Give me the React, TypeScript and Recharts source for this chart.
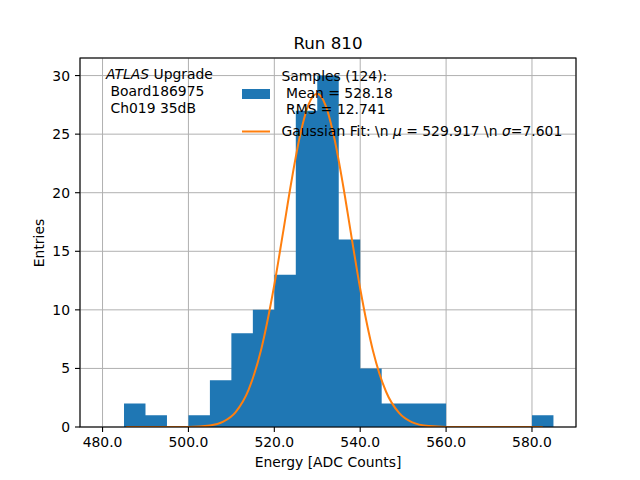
import React from 'react';
import { ComposedChart, Area, Line, XAxis, YAxis, CartesianGrid } from 'recharts';

// histogram bins (lower edges) and entries per bin
const binStarts = [485, 490, 495, 500, 505, 510, 515, 520, 525, 530, 535, 540, 545, 550, 555, 560, 565, 570, 575, 580];
const counts = [2, 1, 0, 1, 4, 8, 10, 13, 27, 30, 16, 5, 2, 2, 2, 0, 0, 0, 0, 1];
const binWidth = 5;

// gaussian fit curve
const fitX = [485.5, 495, 500, 505, 508, 511, 514, 517, 520, 522, 524, 526, 528, 530, 532, 534, 536, 538, 540, 543, 546, 549, 552, 556, 560, 570, 582.5];
const fitY = [0, 0, 0.01, 0.13, 0.44, 1.28, 3.17, 6.71, 12.14, 16.53, 21.0, 24.9, 27.56, 28.45, 27.4, 24.6, 20.66, 16.17, 11.8, 6.47, 3.03, 1.22, 0.42, 0.08, 0.01, 0, 0];

const xTicks = [480, 500, 520, 540, 560, 580];
const yTicks = [0, 5, 10, 15, 20, 25, 30];

const FONT = 'DejaVu Sans';
const BLUE = '#1f77b4';
const ORANGE = '#ff7f0e';

export default function App() {
  const histData = [
    ...binStarts.map((x, i) => ({ x, count: counts[i] })),
    { x: binStarts[binStarts.length - 1] + binWidth, count: counts[counts.length - 1] },
  ];
  const fitData = fitX.map((x, i) => ({ x, fit: fitY[i] }));
  const tickStyle = { fill: '#000', fontSize: 13.9, fontFamily: FONT };

  return (
    <div style={{ position: 'absolute', left: 0, top: 0, width: 640, height: 480, background: '#fff' }}>
      <ComposedChart width={640} height={480} margin={{ top: 58, right: 64, bottom: 0, left: 0 }}>
        <CartesianGrid stroke="#b0b0b0" strokeWidth={1} />
        <XAxis
          type="number"
          dataKey="x"
          domain={[474.75, 590.25]}
          allowDataOverflow
          ticks={xTicks}
          tickFormatter={(v: number) => v.toFixed(1)}
          height={53}
          axisLine={false}
          tickLine={{ stroke: '#000', strokeWidth: 1.1 }}
          tickSize={5}
          tickMargin={5}
          tick={tickStyle}
        />
        <YAxis
          type="number"
          domain={[0, 31.5]}
          allowDataOverflow
          ticks={yTicks}
          width={80}
          axisLine={false}
          tickLine={{ stroke: '#000', strokeWidth: 1.1 }}
          tickSize={5}
          tickMargin={5}
          tick={tickStyle}
        />
        <Area
          data={histData}
          dataKey="count"
          type="stepAfter"
          stroke="none"
          fill={BLUE}
          fillOpacity={1}
          isAnimationActive={false}
        />
        <Line
          data={fitData}
          dataKey="fit"
          type="monotone"
          stroke={ORANGE}
          strokeWidth={2}
          dot={false}
          isAnimationActive={false}
        />
      </ComposedChart>
      <svg
        width={640}
        height={480}
        style={{ position: 'absolute', left: 0, top: 0, pointerEvents: 'none' }}
        fontFamily={FONT}
      >
        <rect x={80} y={58} width={496} height={369} fill="none" stroke="#000" strokeWidth={1.1} />
        <text x={328} y={49} fontSize={16.7} textAnchor="middle">Run 810</text>
        <text x={328} y={467} fontSize={13.9} textAnchor="middle">Energy [ADC Counts]</text>
        <text x={39} y={243} fontSize={13.9} textAnchor="middle" dominantBaseline="central" transform="rotate(-90 39 243)">Entries</text>

        <text x={106} y={78.5} fontSize={13.9}>
          <tspan fontStyle="italic">ATLAS</tspan> Upgrade
        </text>
        <text x={110.5} y={96} fontSize={13.9}>Board186975</text>
        <text x={110.5} y={113} fontSize={13.9}>Ch019 35dB</text>

        <rect x={242} y={89} width={28} height={10} fill={BLUE} />
        <line x1={242} x2={270} y1={131.5} y2={131.5} stroke={ORANGE} strokeWidth={2} />
        <text x={281.5} y={80.5} fontSize={13.9}>Samples (124):</text>
        <text x={286} y={97.5} fontSize={13.9}>Mean = 528.18</text>
        <text x={286} y={114} fontSize={13.9}>RMS = 12.741</text>
        <text x={281.5} y={136} fontSize={13.9} style={{ whiteSpace: 'pre' }}>
          {'Gaussian Fit: \\n '}
          <tspan fontStyle="italic">μ</tspan>
          {' = 529.917 \\n '}
          <tspan fontStyle="italic">σ</tspan>
          {'=7.601'}
        </text>
      </svg>
    </div>
  );
}
